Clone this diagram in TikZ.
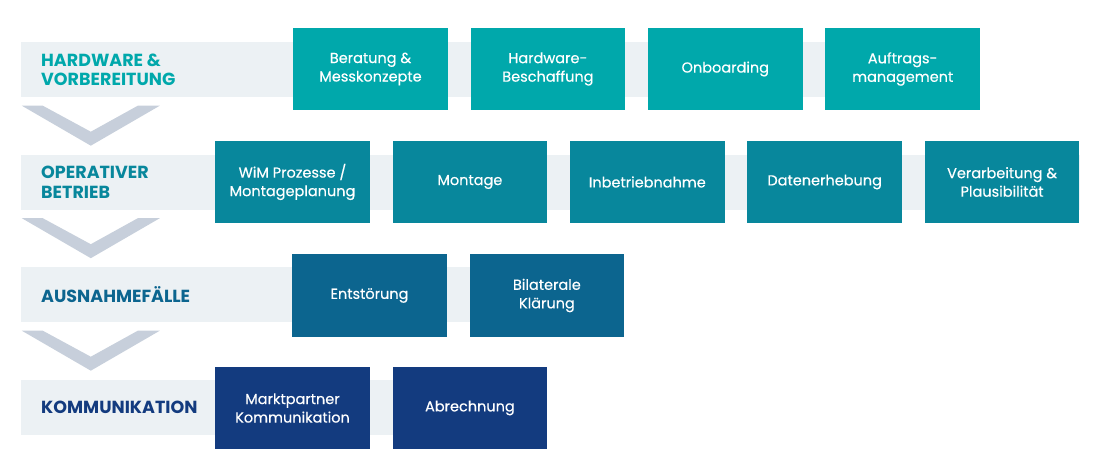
\documentclass[tikz,border=0pt]{standalone}
\usepackage{fontspec}
\setmainfont{Poppins}
\newfontfamily\taskfont[FakeBold=0.35]{Poppins}
\usetikzlibrary{positioning,fit,backgrounds,calc}

\definecolor{rowA}{HTML}{00A8AB}
\definecolor{rowB}{HTML}{08879C}
\definecolor{rowC}{HTML}{0C658F}
\definecolor{rowD}{HTML}{133B7F}
\definecolor{bandgray}{HTML}{ECF1F4}
\definecolor{chevgray}{HTML}{C7CFDB}

\begin{document}
\begin{tikzpicture}[
  x=1pt,y=-1pt,
  font=\taskfont\fontsize{14.5}{18.5}\selectfont,
  node distance=22.5pt,
  task/.style={minimum width=154.5pt,minimum height=82pt,inner sep=2pt,align=center,text=white},
  taskA/.style={task,fill=rowA},
  taskB/.style={task,fill=rowB},
  taskC/.style={task,fill=rowC},
  taskD/.style={task,fill=rowD},
  band/.style={fill=bandgray,inner sep=0pt,minimum height=55pt},
  phase/.style={anchor=west,align=left,inner sep=0pt,font=\normalfont\fontsize{17.5}{19.5}\selectfont\bfseries},
  chev/.style={fill=chevgray}
]
\useasboundingbox (0,0) rectangle (1120,457);

% ===== Hardware & Vorbereitung =====
\node[taskA] (berat) at (370.5,69) {Beratung \&\\Messkonzepte};
\node[taskA,right=of berat] (beschaff) {Hardware-\\Beschaffung};
\node[taskA,right=of beschaff] (onboard) {Onboarding};
\node[taskA,right=of onboard] (auftrag) {Auftrags-\\management};
\coordinate (startA) at (21,70);
\node[phase,text=rowA] (labA) at (41,70) {HARDWARE \&\\VORBEREITUNG};

% ===== Operativer Betrieb =====
\node[taskB] (wim) at (292.5,182) {WiM Prozesse /\\Montageplanung};
\node[taskB,right=of wim] (montage) {Montage};
\node[taskB,right=of montage] (inbetr) {Inbetriebnahme};
\node[taskB,right=of inbetr] (daten) {Datenerhebung};
\node[taskB,right=of daten] (verarb) {Verarbeitung \&\\Plausibilität};
\coordinate (startB) at (21,182.5);
\node[phase,text=rowB] (labB) at (41,182.5) {OPERATIVER\\BETRIEB};

% ===== Ausnahmefaelle =====
\node[taskC] (entst) at (369.5,295.5) {Entstörung};
\node[taskC,right=of entst] (bilat) {Bilaterale\\Klärung};
\coordinate (startC) at (21,295);
\node[phase,text=rowC] (labC) at (41,295) {AUSNAHMEFÄLLE};

% ===== Kommunikation =====
\node[taskD] (markt) at (292.5,408) {Marktpartner\\Kommunikation};
\node[taskD,right=of markt] (abrech) {Abrechnung};
\coordinate (startD) at (21,407.5);
\node[phase,text=rowD] (labD) at (41,407.5) {KOMMUNIKATION};

% ===== Bands =====
\begin{scope}[on background layer]
  \node[band,fit=(startA)(auftrag.east |- startA)] (bandA) {};
  \node[band,fit=(startB)(verarb.east |- startB)] (bandB) {};
  \node[band,fit=(startC)(bilat.east |- startC)] (bandC) {};
  \node[band,fit=(startD)(abrech.east |- startD)] (bandD) {};
\end{scope}

% ===== Chevrons =====
\foreach \b in {bandA,bandB,bandC}
  \fill[chev] ($(\b.south west)+(1,8)$) -- ++(21,0) -- ++(48,26) -- ++(47,-26) -- ++(22,0) -- ++(-69,40) -- cycle;

\end{tikzpicture}
\end{document}
